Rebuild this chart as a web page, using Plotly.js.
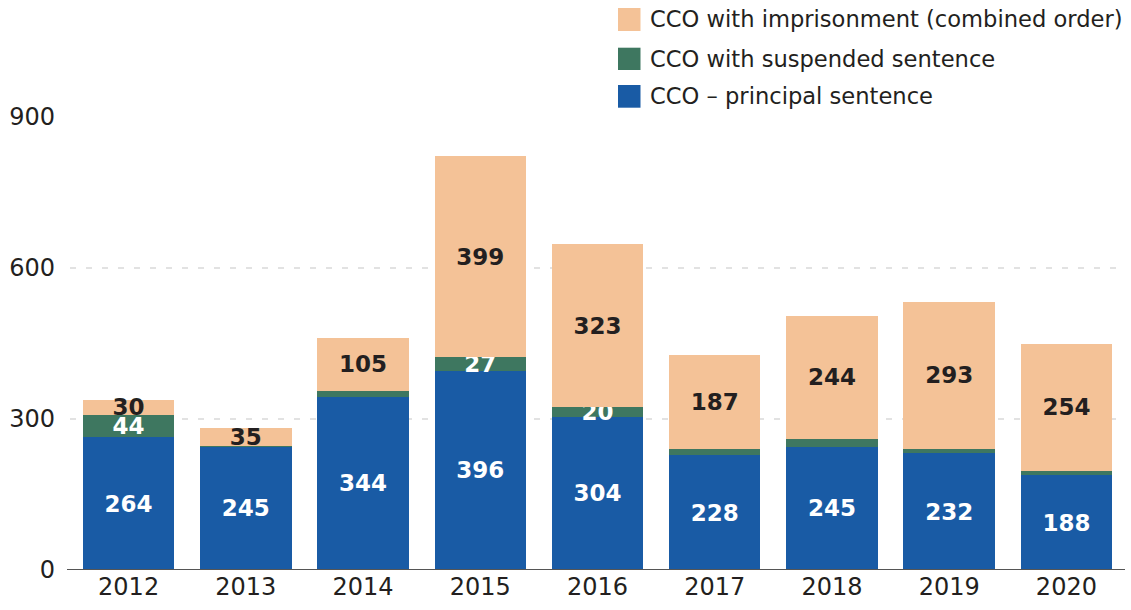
<!DOCTYPE html>
<html>
<head>
<meta charset="utf-8">
<script src="https://cdn.plot.ly/plotly-3.0.1.min.js"></script>
<style>html,body{margin:0;padding:0;background:#fff;}#chart{width:1131px;height:610px;}</style>
</head>
<body>
<div id="chart"></div>
<script>
const years = ['2012','2013','2014','2015','2016','2017','2018','2019','2020'];
const principal = [264,245,344,396,304,228,245,232,188];
const suspended = [44,2,12,27,20,12,16,8,8];
const imprisonment = [30,35,105,399,323,187,244,293,254];
const seriesNames = ['CCO \u2013 principal sentence','CCO with suspended sentence','CCO with imprisonment (combined order)'];
const colors = ['#195BA5','#3E7760','#F4C297'];

const lbl = arr => arr.map(v => v >= 20 ? String(v) : '');
const labFont = (c) => ({family:'DejaVu Sans', size:23, color:c, weight:'bold'});

function bar(vals, i, txtColor){
  return {
    type:'bar', x:years, y:vals, name:seriesNames[i],
    marker:{color:colors[i], line:{width:0}},
    text:lbl(vals), textposition:'inside', insidetextanchor:'middle',
    constraintext:'none', cliponaxis:false,
    textfont:labFont(txtColor), insidetextfont:labFont(txtColor),
    hoverinfo:'skip', showlegend:false
  };
}
const data = [bar(principal,0,'#ffffff'), bar(suspended,1,'#ffffff'), bar(imprisonment,2,'#231F20')];

const L=70, R=1125, T=117, B=570;
const px = x => (x-L)/(R-L);
const py = y => (B-y)/(B-T);
const rows = [{y0:8,y1:31,c:colors[2],t:seriesNames[2]},{y0:47.7,y1:70,c:colors[1],t:seriesNames[1]},{y0:85,y1:107.7,c:colors[0],t:seriesNames[0]}];
const shapes = rows.map(r => ({type:'rect', xref:'paper', yref:'paper', x0:px(618), x1:px(640.5), y0:py(r.y1), y1:py(r.y0), fillcolor:r.c, line:{width:0}}));
shapes.push({type:'line', xref:'paper', yref:'y', x0:px(67), x1:1, y0:0, y1:0, line:{color:'#555', width:2}});
const annotations = rows.map(r => ({xref:'paper', yref:'paper', x:px(648), y:py((r.y0+r.y1)/2), xanchor:'left', yanchor:'middle', text:r.t, showarrow:false, font:{family:'DejaVu Sans', size:22.6, color:'#231F20'}}));

const layout = {
  width:1131, height:610,
  margin:{l:L, r:1131-R, t:T, b:610-B},
  paper_bgcolor:'#fff', plot_bgcolor:'#fff',
  barmode:'stack', bargap:0.22,
  showlegend:false,
  xaxis:{type:'category', showgrid:false, zeroline:false, showline:false, ticks:'', tickfont:{family:'DejaVu Sans', size:24, color:'#231F20'}, fixedrange:true},
  yaxis:{range:[0,900], tickvals:[0,300,600,900], showgrid:true, gridcolor:'#e2e2e2', griddash:'6px,10px', gridwidth:1.5, zeroline:false, showline:false, ticks:'', ticklabelstandoff:14, tickfont:{family:'DejaVu Sans', size:24, color:'#231F20'}, fixedrange:true},
  shapes:shapes, annotations:annotations
};
Plotly.newPlot('chart', data, layout, {displayModeBar:false, staticPlot:true});
</script>
</body>
</html>
